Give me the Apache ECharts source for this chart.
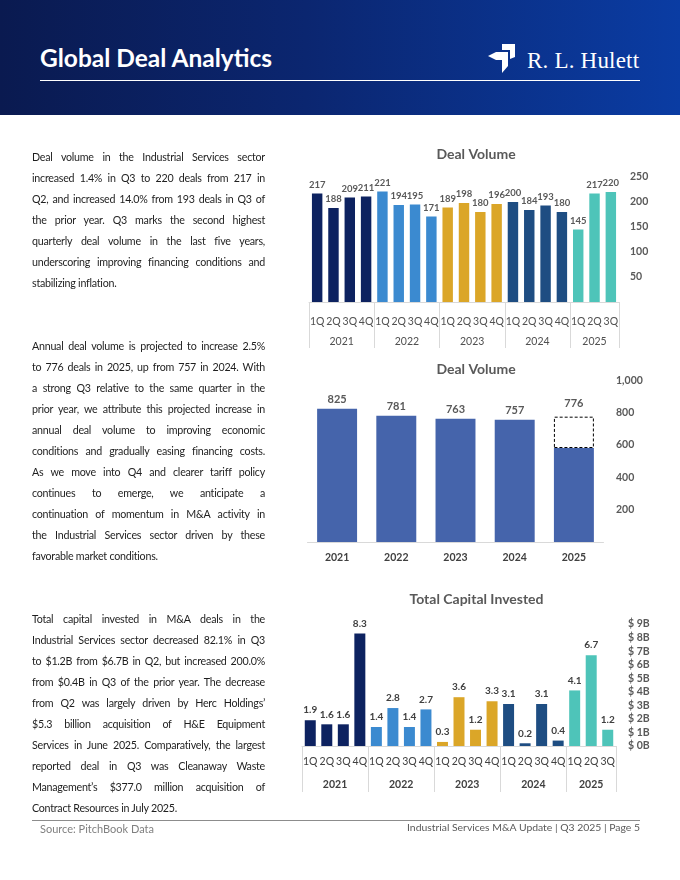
<!DOCTYPE html>
<html>
<head>
<meta charset="utf-8">
<script src="https://cdn.jsdelivr.net/npm/echarts@6/dist/echarts.min.js"></script>
<style>
html,body{margin:0;padding:0;width:680px;height:880px;overflow:hidden;background:#fff;font-family:Lato,"Open Sans",sans-serif;}
#header{position:absolute;left:0;top:0;width:680px;height:115px;background:linear-gradient(90deg,#0a1a50 0%,#0b2670 45%,#0a3ca3 100%);}
#title{position:absolute;left:40px;top:43px;font-size:24.5px;font-weight:bold;color:#fff;line-height:30px;white-space:nowrap;}
#hline{position:absolute;left:40px;top:80px;width:600px;height:1px;background:#fff;}
#logoIcon{position:absolute;left:488px;top:44px;width:28px;height:29px;}
#logoText{position:absolute;left:527px;top:48px;font-family:"Liberation Serif","DejaVu Serif",serif;font-size:23px;letter-spacing:0.2px;line-height:26px;color:#fff;white-space:nowrap;}
#chart{position:absolute;left:0;top:0;width:680px;height:880px;}
.para{position:absolute;left:32px;width:233px;font-size:10.7px;letter-spacing:-0.25px;line-height:21px;color:#1e1e1e;}
.para div{text-align:justify;text-align-last:justify;height:21px;}
.para div.last{text-align-last:left;}
#fline{position:absolute;left:32px;top:820px;width:608px;height:1px;background:#8c8c8c;}
#src{position:absolute;left:40px;top:822px;font-size:11px;line-height:14px;color:#808080;}
#pg{position:absolute;right:40px;top:820px;font-size:10.4px;line-height:14px;color:#595959;white-space:nowrap;}
</style>
</head>
<body>
<div id="header">
  <div id="title">Global Deal Analytics</div>
  <div id="hline"></div>
  <svg id="logoIcon" viewBox="0 0 28 29"><polygon fill="#fff" points="14,0 27,0 27,13 22,15 22,6 14,6"/><polygon fill="#fff" points="0,12 8,8 20,8 20,22 14,29 14,16 8,16"/></svg>
  <div id="logoText">R. L. Hulett</div>
</div>
<div id="chart"></div>

<div class="para" style="top:145.5px">
<div>Deal volume in the Industrial Services sector</div>
<div>increased 1.4% in Q3 to 220 deals from 217 in</div>
<div>Q2, and increased 14.0% from 193 deals in Q3 of</div>
<div>the prior year. Q3 marks the second highest</div>
<div>quarterly deal volume in the last five years,</div>
<div>underscoring improving financing conditions and</div>
<div class="last">stabilizing inflation.</div>
</div>

<div class="para" style="top:334.5px">
<div>Annual deal volume is projected to increase 2.5%</div>
<div>to 776 deals in 2025, up from 757 in 2024. With</div>
<div>a strong Q3 relative to the same quarter in the</div>
<div>prior year, we attribute this projected increase in</div>
<div>annual deal volume to improving economic</div>
<div>conditions and gradually easing financing costs.</div>
<div>As we move into Q4 and clearer tariff policy</div>
<div>continues to emerge, we anticipate a</div>
<div>continuation of momentum in M&amp;A activity in</div>
<div>the Industrial Services sector driven by these</div>
<div class="last">favorable market conditions.</div>
</div>

<div class="para" style="top:607.5px">
<div>Total capital invested in M&amp;A deals in the</div>
<div>Industrial Services sector decreased 82.1% in Q3</div>
<div>to $1.2B from $6.7B in Q2, but increased 200.0%</div>
<div>from $0.4B in Q3 of the prior year. The decrease</div>
<div>from Q2 was largely driven by Herc Holdings’</div>
<div>$5.3 billion acquisition of H&amp;E Equipment</div>
<div>Services in June 2025. Comparatively, the largest</div>
<div>reported deal in Q3 was Cleanaway Waste</div>
<div>Management’s $377.0 million acquisition of</div>
<div class="last">Contract Resources in July 2025.</div>
</div>

<div id="fline"></div>
<div id="src">Source: PitchBook Data</div>
<div id="pg">Industrial Services M&amp;A Update | Q3 2025 | Page 5</div>

<script>
// ---- data ----
const years = ['2021', '2022', '2023', '2024', '2025'];
const quartersPerYear = [4, 4, 4, 4, 3];
const quarterLabels = ['1Q','2Q','3Q','4Q','1Q','2Q','3Q','4Q','1Q','2Q','3Q','4Q','1Q','2Q','3Q','4Q','1Q','2Q','3Q'];
const dealVolume = [217, 188, 209, 211, 221, 194, 195, 171, 189, 198, 180, 196, 200, 184, 193, 180, 145, 217, 220];
const capitalInvested = [1.9, 1.6, 1.6, 8.3, 1.4, 2.8, 1.4, 2.7, 0.3, 3.6, 1.2, 3.3, 3.1, 0.2, 3.1, 0.4, 4.1, 6.7, 1.2];
const annualYears = ['2021', '2022', '2023', '2024', '2025'];
const annualDeals = [825, 781, 763, 757, 776];       // totals (2025 projected)
const annualActual = [825, 781, 763, 757, 582];      // actual to date
const volTicks = [50, 100, 150, 200, 250];
const annualTicks = [200, 400, 600, 800, 1000];
const capTicks = [0, 1, 2, 3, 4, 5, 6, 7, 8, 9];
const yearColors = ['#0d2260', '#3b8ad0', '#dba628', '#1e4d82', '#4ec4b9'];

// ---- derived ----
const yearStarts = [];
const barYearIdx = [];
let acc = 0;
quartersPerYear.forEach((n, yi) => { yearStarts.push(acc); for (let k = 0; k < n; k++) barYearIdx.push(yi); acc += n; });
const nBars = acc;
const yearCenters = yearStarts.map((s, i) => s + quartersPerYear[i] / 2);
const qCats = quarterLabels.map((q, i) => years[barYearIdx[i]] + ' ' + q);
const FONT = 'Lato';

function yearLabel(v) {
  for (let i = 0; i < yearCenters.length; i++) if (Math.abs(v - yearCenters[i]) < 1e-6) return years[i];
  return '';
}
function quarterAxis(grid, margin, color, weight) {
  return {
    type: 'category', gridIndex: grid, data: qCats, position: 'bottom',
    axisLine: { show: true, lineStyle: { color: '#d9d9d9', width: 1 } },
    axisTick: { show: true, length: 46, interval: (i) => yearStarts.indexOf(i) >= 0, lineStyle: { color: '#d9d9d9' } },
    axisLabel: { interval: 0, margin: margin, fontFamily: FONT, fontSize: 10.5, color: color, fontWeight: weight,
      formatter: (v, i) => quarterLabels[i] }
  };
}
function yearAxis(grid, margin, color, weight) {
  return {
    type: 'value', gridIndex: grid, min: 0, max: nBars, interval: 0.5, position: 'bottom',
    axisLine: { show: false }, axisTick: { show: false }, splitLine: { show: false },
    axisLabel: { margin: margin, fontFamily: FONT, fontSize: 10.5, color: color, fontWeight: weight,
      formatter: yearLabel, showMinLabel: true, showMaxLabel: true }
  };
}
function valueAxis(grid, ticks, margin, fmt) {
  const step = ticks[1] - ticks[0];
  return {
    type: 'value', gridIndex: grid, position: 'right',
    min: 0, max: ticks[ticks.length - 1], interval: step,
    axisLine: { show: false }, axisTick: { show: false }, splitLine: { show: false },
    axisLabel: { margin: margin, fontFamily: FONT, fontSize: 10.5, fontWeight: 'bold', color: '#595959',
      formatter: (v) => ticks.indexOf(v) >= 0 ? fmt(v) : '' }
  };
}

const chart = echarts.init(document.getElementById('chart'), null, { renderer: 'canvas' });
const titleStyle = { fontFamily: FONT, fontSize: 14, fontWeight: 'bold', color: '#595959' };

chart.setOption({
  animation: false,
  backgroundColor: 'transparent',
  title: [
    { text: 'Deal Volume', left: 476, top: 147.5, textAlign: 'center', padding: 0, textStyle: titleStyle },
    { text: 'Deal Volume', left: 476, top: 362.5, textAlign: 'center', padding: 0, textStyle: titleStyle },
    { text: 'Total Capital Invested', left: 476.5, top: 592.5, textAlign: 'center', padding: 0, textStyle: titleStyle }
  ],
  grid: [
    { left: 309, top: 177, width: 310, height: 125, containLabel: false, outerBoundsMode: 'none' },
    { left: 307.5, top: 380.5, width: 296, height: 161.5, containLabel: false, outerBoundsMode: 'none' },
    { left: 302, top: 624, width: 314, height: 122, containLabel: false, outerBoundsMode: 'none' }
  ],
  xAxis: [
    quarterAxis(0, 14, '#505050', 'normal'),
    yearAxis(0, 34, '#505050', 'normal'),
    {
      type: 'category', gridIndex: 1, data: annualYears, position: 'bottom',
      axisLine: { show: true, lineStyle: { color: '#d9d9d9' } },
      axisTick: { show: false },
      axisLabel: { interval: 0, margin: 10, fontFamily: FONT, fontSize: 10.5, fontWeight: 'bold', color: '#404040' }
    },
    quarterAxis(2, 10, '#404040', 'normal'),
    yearAxis(2, 33, '#404040', 'bold')
  ],
  yAxis: [
    valueAxis(0, volTicks, 11, (v) => String(v)),
    valueAxis(1, annualTicks, 12.5, (v) => v.toLocaleString('en-US')),
    valueAxis(2, capTicks, 12, (v) => '$ ' + v + 'B')
  ],
  series: [
    {
      type: 'bar', xAxisIndex: 0, yAxisIndex: 0, barCategoryGap: '36%',
      data: dealVolume.map((v, i) => ({ value: v, itemStyle: { color: yearColors[barYearIdx[i]] } })),
      label: { show: true, position: 'top', distance: 4, fontFamily: FONT, fontSize: 9.5, fontWeight: 'bold', color: '#595959' }
    },
    {
      type: 'bar', xAxisIndex: 2, yAxisIndex: 1, stack: 'annual', barCategoryGap: '32.5%',
      data: annualActual.map((v, i) => ({ value: v, label: { show: annualDeals[i] === v } })),
      itemStyle: { color: '#4564ab' },
      label: { show: true, position: 'top', distance: 4, fontFamily: FONT, fontSize: 11, fontWeight: 'bold', color: '#595959',
        formatter: (p) => String(annualDeals[p.dataIndex]) }
    },
    {
      type: 'bar', xAxisIndex: 2, yAxisIndex: 1, stack: 'annual', barCategoryGap: '32.5%',
      data: annualDeals.map((t, i) => t - annualActual[i] > 0 ? t - annualActual[i] : '-'),
      itemStyle: { color: '#ffffff', borderColor: '#000000', borderWidth: 1, borderType: [3, 2] },
      label: { show: true, position: 'top', distance: 8, fontFamily: FONT, fontSize: 11, fontWeight: 'bold', color: '#595959',
        formatter: (p) => String(annualDeals[p.dataIndex]) }
    },
    {
      type: 'bar', xAxisIndex: 3, yAxisIndex: 2, barCategoryGap: '33.5%',
      data: capitalInvested.map((v, i) => ({ value: v, itemStyle: { color: yearColors[barYearIdx[i]] } })),
      label: { show: true, position: 'top', distance: 5, fontFamily: FONT, fontSize: 10, fontWeight: 'bold', color: '#404040',
        formatter: (p) => p.value.toFixed(1) }
    }
  ]
});
</script>
</body>
</html>
